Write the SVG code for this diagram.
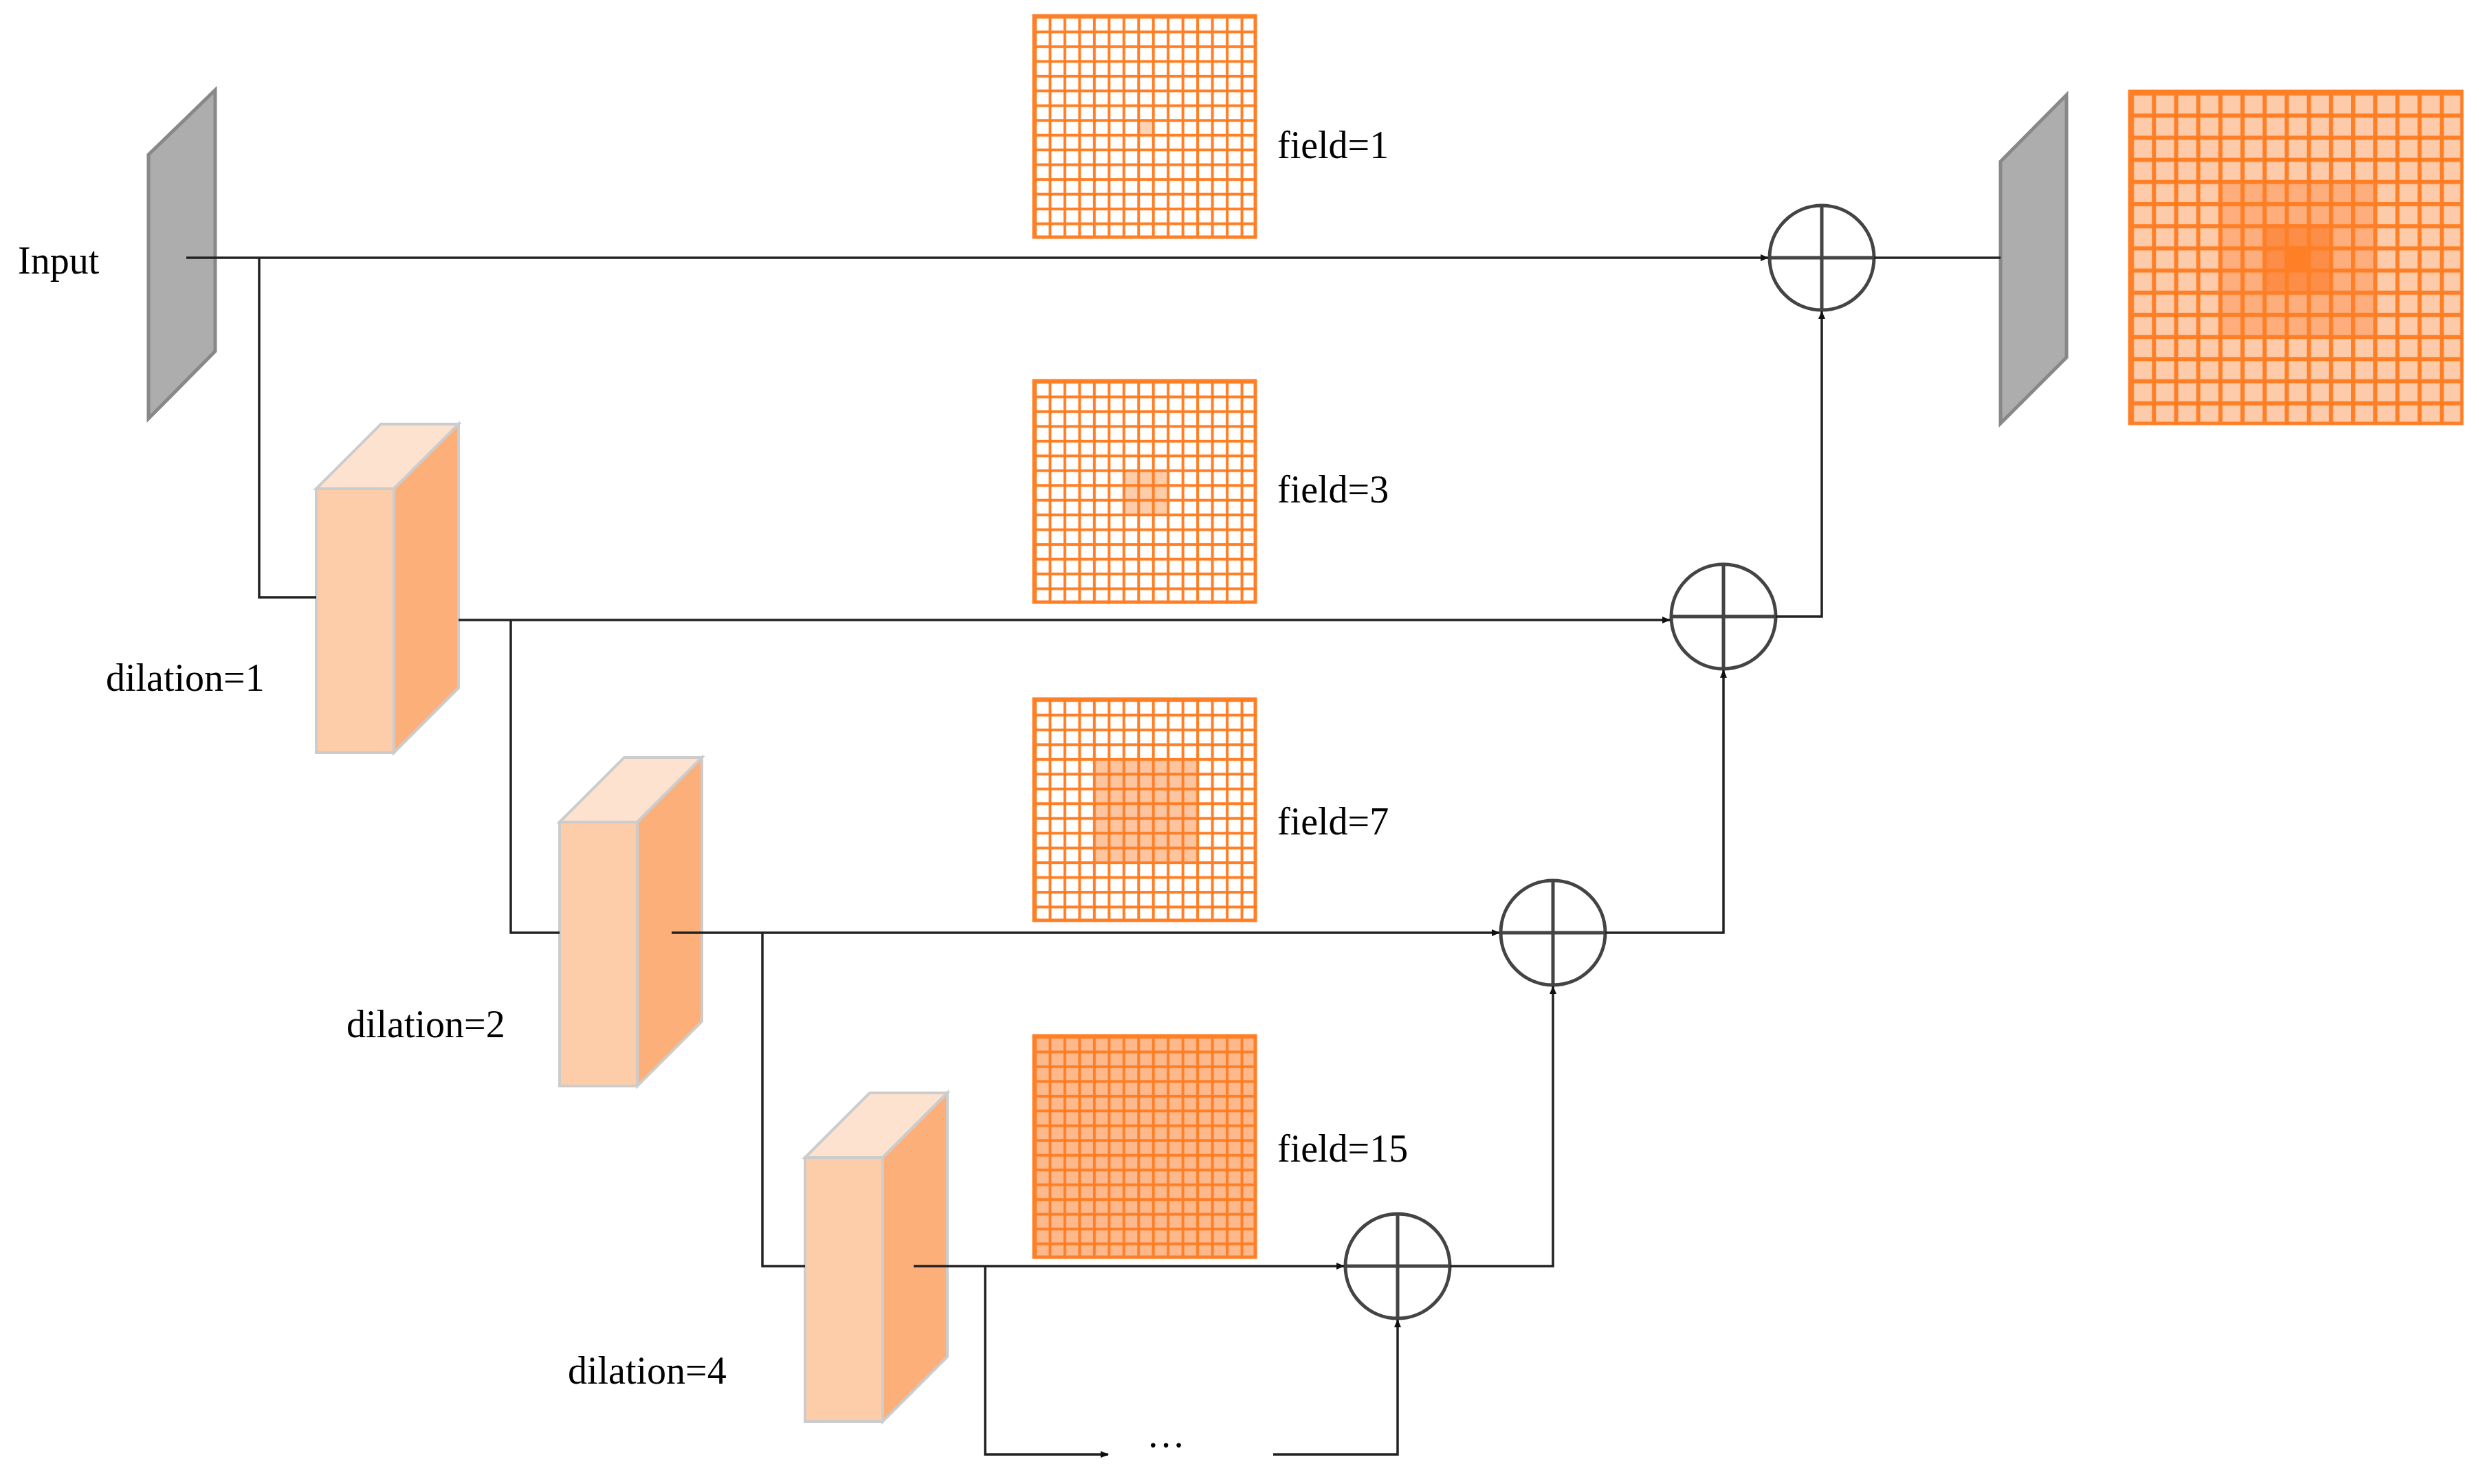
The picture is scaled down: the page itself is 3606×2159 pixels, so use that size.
<svg xmlns="http://www.w3.org/2000/svg" width="3606" height="2159" viewBox="0 0 3606 2159">
<style>
.t{font-family:"Liberation Serif","Times New Roman",serif;font-size:56px;fill:#000}
.ln{fill:none;stroke:#222;stroke-width:3.5}
.plane{fill:#adadad;stroke:#888;stroke-width:5}
.front{fill:#fdcca8;stroke:#ccc;stroke-width:4}
.side{fill:#fdaf7a;stroke:#ccc;stroke-width:4}
.top{fill:#fee2d0;stroke:#ccc;stroke-width:4}
.add{fill:none;stroke:#444;stroke-width:5}
.gb{fill:#fff}
.gl{fill:url(#grid);stroke:#ff7f27;stroke-width:5}
</style>
<defs>
<marker id="arr" markerWidth="12" markerHeight="10" refX="11" refY="5" orient="auto" markerUnits="userSpaceOnUse" viewBox="0 0 12 10">
<path d="M0,0 L12,5 L0,10 Z" fill="#111"/>
</marker>
<pattern id="grid" patternUnits="objectBoundingBox" patternContentUnits="objectBoundingBox" width="0.0666667" height="0.0666667">
<rect x="0" y="0" width="0.0125" height="0.0666667" fill="#ff7f27"/>
<rect x="0" y="0" width="0.0666667" height="0.0125" fill="#ff7f27"/>
</pattern>
</defs>

<g id="input">
<polygon class="plane" points="216,225 313,131 313,511 216,609"/>
<text class="t" x="26" y="398">Input</text>
</g>
<g id="output">
<polygon class="plane" points="2910,235 3006,138 3006,520 2910,616"/>
</g>

<g id="box1">
<polygon class="top" points="460,711 554,617 667,617 573,711"/>
<polygon class="side" points="573,711 667,617 667,1001 573,1095"/>
<rect class="front" x="460" y="711" width="113" height="384"/>
<text class="t" x="154" y="1005">dilation=1</text>
</g>
<g id="box2">
<polygon class="top" points="814,1196 908,1102 1021,1102 927,1196"/>
<polygon class="side" points="927,1196 1021,1102 1021,1486 927,1580"/>
<rect class="front" x="814" y="1196" width="113" height="384"/>
<text class="t" x="504" y="1509">dilation=2</text>
</g>
<g id="box3">
<polygon class="top" points="1171,1684 1265,1590 1378,1590 1284,1684"/>
<polygon class="side" points="1284,1684 1378,1590 1378,1974 1284,2068"/>
<rect class="front" x="1171" y="1684" width="113" height="384"/>
<text class="t" x="826" y="2013">dilation=4</text>
</g>

<g id="field1">
<rect class="gb" x="1504" y="23" width="322" height="322"/>
<rect x="1654" y="173" width="21.5" height="21.5" fill="#fdd3b5"/>
<rect class="gl" x="1504" y="23" width="322" height="322"/>
<text class="t" x="1858" y="230">field=1</text>
</g>
<g id="field3">
<rect class="gb" x="1504" y="554" width="322" height="322"/>
<rect x="1633" y="683" width="64.4" height="64.4" fill="#fdcca8"/>
<rect class="gl" x="1504" y="554" width="322" height="322"/>
<text class="t" x="1858" y="731">field=3</text>
</g>
<g id="field7">
<rect class="gb" x="1504" y="1017" width="322" height="322"/>
<rect x="1590" y="1103" width="150.3" height="150.3" fill="#fdc4a0"/>
<rect class="gl" x="1504" y="1017" width="322" height="322"/>
<text class="t" x="1858" y="1214">field=7</text>
</g>
<g id="field15">
<rect x="1504" y="1507" width="322" height="322" fill="#fdb88c"/>
<rect class="gl" x="1504" y="1507" width="322" height="322"/>
<text class="t" x="1858" y="1690">field=15</text>
</g>
<g id="result">
<rect x="3098" y="133" width="483" height="483" fill="#fdcba9"/>
<rect x="3226.8" y="261.8" width="225.4" height="225.4" fill="#fdae7c"/>
<rect x="3291.2" y="326.2" width="96.6" height="96.6" fill="#fd8e47"/>
<rect x="3323.4" y="358.4" width="32.2" height="32.2" fill="#ff7f27"/>
<rect class="gl" x="3098" y="133" width="483" height="483"/>
</g>

<g id="add1"><circle class="add" cx="2650" cy="375" r="76"/><path class="add" d="M2574,375H2726M2650,299V451"/></g>
<g id="add2"><circle class="add" cx="2507" cy="897" r="76"/><path class="add" d="M2431,897H2583M2507,821V973"/></g>
<g id="add3"><circle class="add" cx="2259" cy="1357" r="76"/><path class="add" d="M2183,1357H2335M2259,1281V1433"/></g>
<g id="add4"><circle class="add" cx="2033" cy="1842" r="76"/><path class="add" d="M1957,1842H2109M2033,1766V1918"/></g>

<g id="connectors">
<path class="ln" d="M271,375H2572" marker-end="url(#arr)"/>
<path class="ln" d="M2726,375H2910"/>
<path class="ln" d="M377,375V869H460"/>
<path class="ln" d="M667,902H2429" marker-end="url(#arr)"/>
<path class="ln" d="M2583,897H2650V453" marker-end="url(#arr)"/>
<path class="ln" d="M743,902V1357H814"/>
<path class="ln" d="M977,1357H2181" marker-end="url(#arr)"/>
<path class="ln" d="M2335,1357H2507V975" marker-end="url(#arr)"/>
<path class="ln" d="M1109,1357V1842H1171"/>
<path class="ln" d="M1329,1842H1955" marker-end="url(#arr)"/>
<path class="ln" d="M2109,1842H2259V1435" marker-end="url(#arr)"/>
<path class="ln" d="M1433,1842V2116H1612" marker-end="url(#arr)"/>
<path class="ln" d="M1852,2116H2033V1920" marker-end="url(#arr)"/>
<text class="t" x="1668" y="2122">···</text>
</g>
</svg>
